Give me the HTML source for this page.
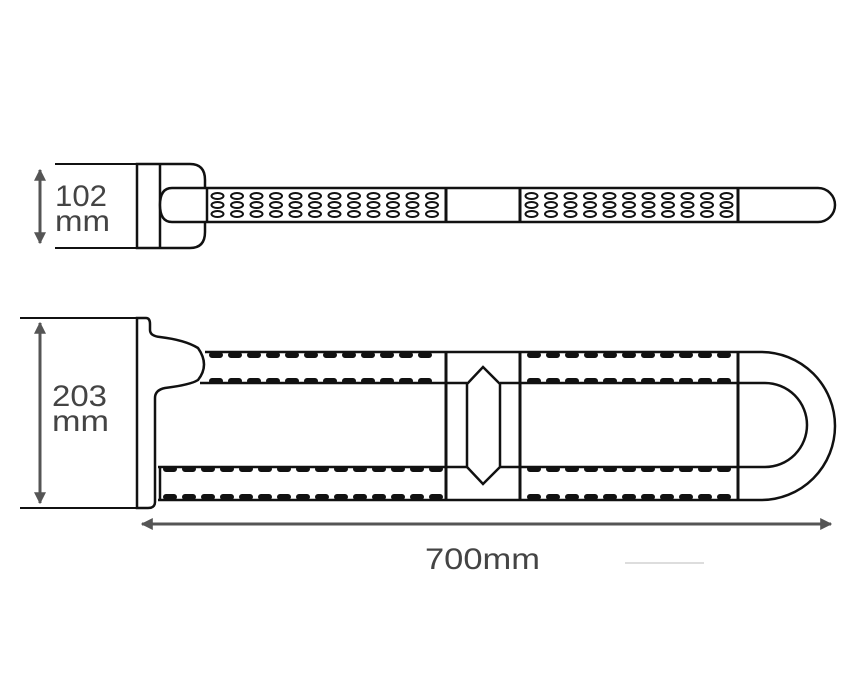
<!DOCTYPE html>
<html><head><style>html,body{margin:0;padding:0;background:#fff;width:849px;height:700px;overflow:hidden}</style></head>
<body>
<svg width="849" height="700" viewBox="0 0 849 700" xmlns="http://www.w3.org/2000/svg">
<defs>
<pattern id="ov1" x="208" y="0" width="19.5" height="700" patternUnits="userSpaceOnUse">
<ellipse cx="9.5" cy="196" rx="6" ry="3" fill="none" stroke="#111" stroke-width="2"/>
<ellipse cx="9.5" cy="205" rx="6" ry="3" fill="none" stroke="#111" stroke-width="2"/>
<ellipse cx="9.5" cy="214" rx="6" ry="3" fill="none" stroke="#111" stroke-width="2"/>
</pattern>
<pattern id="ov2" x="522" y="0" width="19.5" height="700" patternUnits="userSpaceOnUse">
<ellipse cx="9.5" cy="196" rx="6" ry="3" fill="none" stroke="#111" stroke-width="2"/>
<ellipse cx="9.5" cy="205" rx="6" ry="3" fill="none" stroke="#111" stroke-width="2"/>
<ellipse cx="9.5" cy="214" rx="6" ry="3" fill="none" stroke="#111" stroke-width="2"/>
</pattern>
<marker id="ar" viewBox="0 0 10 10" refX="9" refY="5" markerWidth="4" markerHeight="4" orient="auto-start-reverse"><path d="M0,0 L10,5 L0,10 z" fill="#555"/></marker>
</defs>

<g fill="none" stroke="#111" stroke-width="2.5">
<path d="M137,164 H190 Q205,164 205,180 V232 Q205,248 190,248 H137 Z" fill="#fff"/>
<line x1="160" y1="164" x2="160" y2="248"/>
<path d="M172,188 H818 A17,17 0 0 1 818,222 H172 Q160,222 160,205 Q160,188 172,188 Z" fill="#fff"/>
<line x1="207" y1="188" x2="207" y2="222"/>
<line x1="446" y1="188" x2="446" y2="222" stroke-width="3"/>
<line x1="520" y1="188" x2="520" y2="222" stroke-width="3"/>
<line x1="738" y1="188" x2="738" y2="222" stroke-width="3"/>
</g>
<rect x="208" y="190" width="236" height="30" fill="url(#ov1)"/>
<rect x="522" y="190" width="214" height="30" fill="url(#ov2)"/>

<g fill="none" stroke="#111" stroke-width="2.5">
<path d="M137,318 H146 Q150,318 150,324 V330 Q150,336 160,337 Q185,340 198,348 Q210,365 198,380 Q190,385 165,388 Q155,390 155,398 V502 Q155,508 148,508 H137 Z" fill="#fff"/>
<path d="M205,352 H761 A74,74 0 0 1 761,500 H158"/>
<path d="M200,383 H467 M500,383 H765 A42,42 0 0 1 765,467 H500 M467,467 H158"/>
<path d="M160,467 V500"/>
<line x1="446" y1="352" x2="446" y2="500" stroke-width="3"/>
<line x1="520" y1="352" x2="520" y2="500" stroke-width="3"/>
<line x1="738" y1="352" x2="738" y2="500" stroke-width="3"/>
<path d="M483,367 L500,384 V467 L483,484 L467,467 V384 Z" fill="#fff"/>
</g>
<g stroke="#111" stroke-width="6" stroke-linecap="round" stroke-dasharray="8 11" fill="none">
<path d="M212,355 H440 M212,381 H440 M166,469 H440 M166,497 H440"/>
<path d="M530,355 H734 M530,381 H734 M530,469 H734 M530,497 H734"/>
</g>

<g stroke="#111" stroke-width="2">
<line x1="55" y1="164" x2="137" y2="164"/>
<line x1="55" y1="248" x2="137" y2="248"/>
<line x1="20" y1="318" x2="137" y2="318"/>
<line x1="20" y1="508" x2="137" y2="508"/>
</g>
<g stroke="#555" stroke-width="3">
<line x1="40" y1="170" x2="40" y2="243" marker-start="url(#ar)" marker-end="url(#ar)"/>
<line x1="40" y1="323" x2="40" y2="503" marker-start="url(#ar)" marker-end="url(#ar)"/>
<line x1="142" y1="524" x2="831" y2="524" marker-start="url(#ar)" marker-end="url(#ar)"/>
</g>
<line x1="625" y1="563" x2="704" y2="563" stroke="#bbb" stroke-width="1"/>
<g fill="#444" font-family="Liberation Sans, sans-serif" font-size="30">
<text x="55" y="206" textLength="52" lengthAdjust="spacingAndGlyphs">102</text>
<text x="55" y="231" textLength="55" lengthAdjust="spacingAndGlyphs">mm</text>
<text x="52" y="406" textLength="55" lengthAdjust="spacingAndGlyphs">203</text>
<text x="52" y="431" textLength="57" lengthAdjust="spacingAndGlyphs">mm</text>
<text x="425" y="569" textLength="115" lengthAdjust="spacingAndGlyphs">700mm</text>
</g>
</svg>
</body></html>
